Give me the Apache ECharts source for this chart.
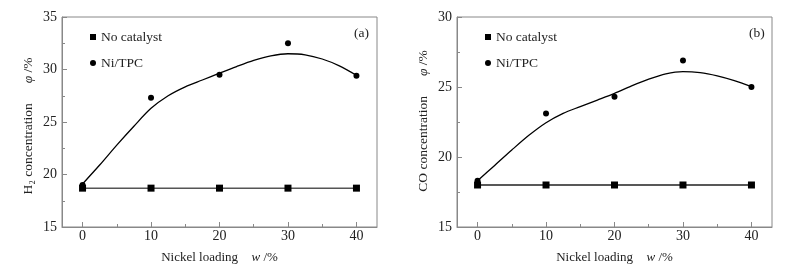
<!DOCTYPE html>
<html>
<head>
<meta charset="utf-8">
<script src="https://cdn.jsdelivr.net/npm/echarts@6/dist/echarts.min.js"></script>
<style>
  html, body { margin: 0; padding: 0; background: #fff; }
  #chart { width: 790px; height: 269px; }
</style>
</head>
<body>
<div id="chart"></div>
<script>
// measured points
const loadings = [0, 10, 20, 30, 40];
const h2NoCatalyst = [18.7, 18.7, 18.7, 18.7, 18.7];
const h2NiTpc = [19.0, 27.3, 29.5, 32.5, 29.4];
const coNoCatalyst = [18.0, 18.0, 18.0, 18.0, 18.0];
const coNiTpc = [18.3, 23.1, 24.3, 26.9, 25.0];

// fitted curves
const fitLoadings = [0, 2.5, 5, 7.5, 10, 12.5, 15, 17.5, 20, 22.5, 25, 27.5, 30, 32.5, 35, 37.5, 40];
const h2Fit = [19.1, 20.9, 22.8, 24.6, 26.3, 27.5, 28.35, 29.0, 29.65, 30.28, 30.86, 31.3, 31.5, 31.4, 31.0, 30.35, 29.45];
const coFit = [18.3, 19.4, 20.5, 21.55, 22.45, 23.12, 23.6, 24.07, 24.55, 25.08, 25.56, 25.94, 26.1, 26.03, 25.8, 25.46, 25.03];

// tick labels
const xMajor = [0, 10, 20, 30, 40];
const xMinor = [5, 15, 25, 35];

const FONT = 'Liberation Serif';
const AXIS = '#888';
const TEXT = '#222';

const pair = (xs, ys) => xs.map((x, i) => [x, ys[i]]);

const chart = echarts.init(document.getElementById('chart'));

const panels = [
  { left: 62, yMax: 35, yName: 'H₂ concentration', namePad: [0, 8, 0, 0], noCat: h2NoCatalyst, niTpc: h2NiTpc, fit: h2Fit, lineColor: '#555', tag: '(a)', tagX: 354 },
  { left: 457, yMax: 30, yName: 'CO concentration', namePad: [0, 0, 0, 2], noCat: coNoCatalyst, niTpc: coNiTpc, fit: coFit, lineColor: '#222', tag: '(b)', tagX: 749 },
];

const grid = [], xAxis = [], yAxis = [], series = [], legend = [], graphic = [];

panels.forEach((p, i) => {
  grid.push({
    left: p.left, top: 17, width: 315, height: 210,
    show: true, borderColor: AXIS, borderWidth: 1,
    outerBoundsMode: 'none',
  });
  // main x axis: labels and major ticks
  xAxis.push({
    gridIndex: i, type: 'value', min: -3, max: 43, position: 'bottom',
    axisLine: { onZero: false, lineStyle: { color: AXIS } },
    axisTick: { inside: true, length: 5, customValues: xMajor, lineStyle: { color: AXIS } },
    axisLabel: { customValues: xMajor, color: TEXT, fontFamily: FONT, fontSize: 14, margin: 2 },
    splitLine: { show: false },
    name: '{t|Nickel loading}    {i|w} {t|/%}',
    nameLocation: 'middle', nameGap: 24,
    nameTextStyle: {
      rich: {
        t: { fontFamily: FONT, fontSize: 13, color: TEXT },
        i: { fontFamily: FONT, fontSize: 13, color: TEXT, fontStyle: 'italic' },
      },
    },
  });
  // overlay x axis: only the short minor ticks
  xAxis.push({
    gridIndex: i, type: 'value', min: -3, max: 43, position: 'bottom',
    axisLine: { show: false, onZero: false },
    axisTick: { inside: true, length: 3, customValues: xMinor, lineStyle: { color: AXIS } },
    axisLabel: { show: false },
    splitLine: { show: false },
  });
  yAxis.push({
    gridIndex: i, type: 'value', min: 15, max: p.yMax, interval: 5,
    axisLine: { show: true, onZero: false, lineStyle: { color: AXIS } },
    axisTick: { inside: true, length: 5, lineStyle: { color: AXIS } },
    minorTick: { show: true, splitNumber: 2, length: 3, lineStyle: { color: AXIS } },
    axisLabel: { color: TEXT, fontFamily: FONT, fontSize: 14, margin: 5 },
    splitLine: { show: false },
    name: '{t|' + p.yName + '}      {i|φ} {t|/%}',
    nameLocation: 'middle', nameGap: 27,
    nameTextStyle: {
      padding: p.namePad,
      rich: {
        t: { fontFamily: FONT, fontSize: 13.5, color: TEXT },
        i: { fontFamily: FONT, fontSize: 13.5, color: TEXT, fontStyle: 'italic' },
      },
    },
  });

  series.push({
    name: 'No catalyst', type: 'line', xAxisIndex: i * 2, yAxisIndex: i,
    data: pair(loadings, p.noCat),
    symbol: 'rect', symbolSize: 7, showAllSymbol: true, z: 3,
    itemStyle: { color: '#000', opacity: 1 },
    lineStyle: { color: p.lineColor, width: 1.5 },
  });
  series.push({
    name: 'fit ' + i, type: 'line', xAxisIndex: i * 2, yAxisIndex: i,
    data: pair(fitLoadings, p.fit),
    smooth: 0.3, showSymbol: false, z: 2,
    lineStyle: { color: '#000', width: 1.3 },
  });
  series.push({
    name: 'Ni/TPC', type: 'scatter', xAxisIndex: i * 2, yAxisIndex: i,
    data: pair(loadings, p.niTpc),
    symbol: 'circle', symbolSize: 6, z: 4,
    itemStyle: { color: '#000', opacity: 1 },
  });

  legend.push({
    left: p.left + 23, top: 25, orient: 'vertical', itemGap: 12,
    itemWidth: 6, itemHeight: 6, selectedMode: false,
    data: [{ name: 'No catalyst', icon: 'rect' }, { name: 'Ni/TPC', icon: 'circle' }],
    textStyle: { fontFamily: FONT, fontSize: 13.5, color: TEXT },
  });

  graphic.push({
    type: 'text', left: p.tagX, top: 26,
    style: { text: p.tag, fontFamily: FONT, fontSize: 13.5, fill: TEXT },
  });
});

chart.setOption({
  animation: false,
  backgroundColor: '#fff',
  grid, xAxis, yAxis, series, legend, graphic,
});
</script>
</body>
</html>
